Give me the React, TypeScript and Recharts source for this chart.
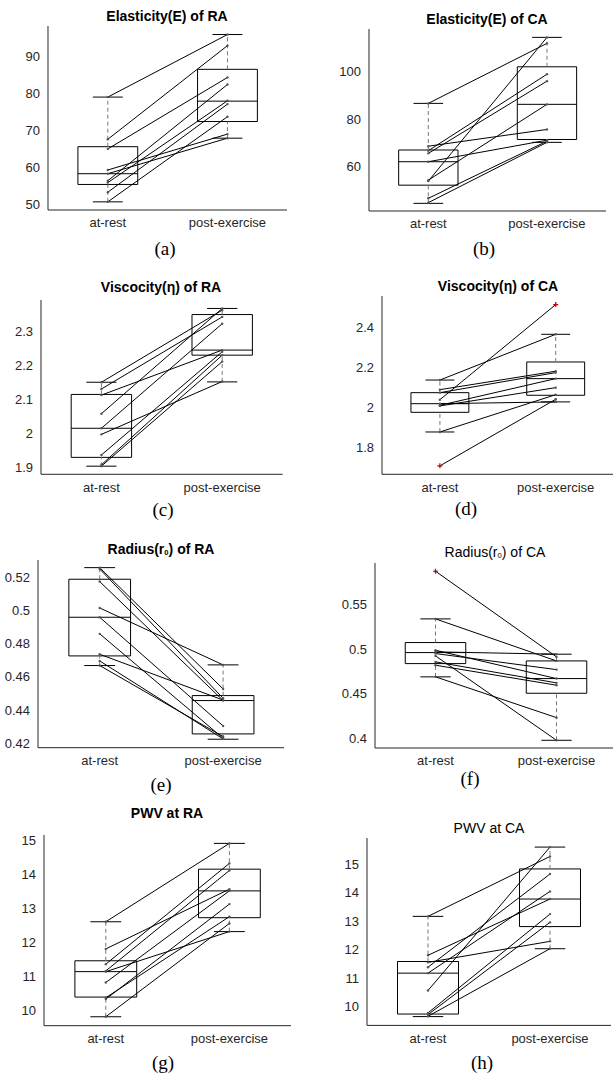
import React from 'react';
import {
  ComposedChart,
  XAxis,
  YAxis,
  Scatter,
  ReferenceArea,
  ReferenceLine,
} from 'recharts';

const groups = ['at-rest', 'post-exercise'];

// box stats are [lower whisker, q1, median, q3, upper whisker]

// (a) Elasticity(E) of RA
const eRaRest = [78.9, 67.5, 64.9, 59.2, 58.2, 56.3, 55.8, 53.2, 50.6];
const eRaPost = [95.8, 92.8, 84.2, 68.9, 67.8, 82.3, 77.9, 77.0, 73.6];
const eRaBoxRest = [50.6, 55.3, 58.2, 65.5, 78.9];
const eRaBoxPost = [67.8, 72.3, 77.8, 86.4, 95.8];

// (b) Elasticity(E) of CA
const eCaRest = [86.5, 54.0, 66.7, 65.6, 68.6, 62.1, 54.4, 46.8, 45.0];
const eCaPost = [111.6, 114.1, 98.7, 95.8, 75.6, 71.1, 86.1, 70.7, 70.2];
const eCaBoxRest = [44.7, 52.3, 62.1, 67.0, 86.5];
const eCaBoxPost = [70.2, 71.4, 86.1, 101.8, 114.1];

// (c) Viscocity of RA
const vRaRest = [2.151, 2.131, 2.113, 2.058, 2.015, 1.997, 1.936, 1.907, 1.903];
const vRaPost = [2.364, 2.344, 2.246, 2.369, 2.324, 2.153, 2.241, 2.231, 2.212];
const vRaBoxRest = [1.903, 1.929, 2.015, 2.115, 2.151];
const vRaBoxPost = [2.152, 2.231, 2.246, 2.351, 2.369];

// (d) Viscocity of CA
const vCaRest = [2.137, 2.039, 2.089, 2.074, 2.011, 2.008, 2.019, 1.878, 1.709];
const vCaPost = [2.365, 2.513, 2.181, 2.174, 2.144, 2.099, 2.028, 2.064, 2.041];
const vCaBoxRest = [1.878, 1.976, 2.019, 2.074, 2.137];
const vCaBoxPost = [2.028, 2.061, 2.144, 2.227, 2.365];
const vCaOutRest = [1.709];
const vCaOutPost = [2.513];

// (e) Radius of RA
const rRaRest = [0.5258, 0.525, 0.5174, 0.5015, 0.4959, 0.4859, 0.4736, 0.4696, 0.4668];
const rRaPost = [0.4527, 0.4471, 0.4457, 0.4672, 0.4304, 0.423, 0.446, 0.4226, 0.424];
const rRaBoxRest = [0.4668, 0.4726, 0.4959, 0.5188, 0.5258];
const rRaBoxPost = [0.4224, 0.4256, 0.4457, 0.4487, 0.4672];

// (f) Radius of CA
const rCaRest = [0.5868, 0.5336, 0.4968, 0.4949, 0.4923, 0.4856, 0.4819, 0.4689, 0.4986];
const rCaPost = [0.4912, 0.4867, 0.4942, 0.477, 0.3981, 0.4622, 0.4596, 0.4234, 0.467];
const rCaBoxRest = [0.4689, 0.4837, 0.496, 0.5072, 0.5336];
const rCaBoxPost = [0.3981, 0.4506, 0.467, 0.4867, 0.4942];
const rCaOutRest = [0.5868];

// (g) PWV at RA
const pRaRest = [12.6, 11.8, 11.35, 11.15, 11.13, 10.81, 10.36, 10.32, 9.8];
const pRaPost = [14.91, 13.56, 14.32, 14.11, 12.31, 13.51, 12.75, 13.12, 12.55];
const pRaBoxRest = [9.8, 10.38, 11.13, 11.45, 12.6];
const pRaBoxPost = [12.31, 12.72, 13.51, 14.15, 14.91];

// (h) PWV at CA
const pCaRest = [13.17, 10.56, 11.8, 11.55, 11.38, 11.17, 9.77, 9.71, 9.65];
const pCaPost = [15.28, 15.61, 13.78, 12.29, 14.66, 14.05, 13.25, 12.96, 12.03];
const pCaBoxRest = [9.64, 9.73, 11.17, 11.58, 13.17];
const pCaBoxPost = [12.03, 12.81, 13.78, 14.84, 15.61];

const axisColor = '#262626';
const sans = '"Liberation Sans", Arial, sans-serif';
const serif = '"Liberation Serif", "Times New Roman", serif';

const Dot = (p: any) => <circle cx={p.cx} cy={p.cy} r={1.2} fill="#555" />;
const Plus = (p: any) => (
  <path
    d={`M${p.cx - 2.5},${p.cy}h5M${p.cx},${p.cy - 2.5}v5`}
    stroke="#d40000"
    strokeWidth={1.2}
  />
);

type PanelProps = {
  rest: number[];
  post: number[];
  boxes: number[][];
  outliers?: { x: number; y: number }[];
  domain: [number, number];
  ticks: number[];
  plot: [number, number, number, number]; // left, top, right, bottom on the page
  title: React.ReactNode;
  bold: boolean;
  titlePos: [number, number];
  caption: string;
  capPos: [number, number];
};

const Panel = ({ rest, post, boxes, outliers = [], domain, ticks, plot, title, bold, titlePos, caption, capPos }: PanelProps) => {
  const [l, t, r, b] = plot;
  const yw = 40;
  const top = 5;
  const xh = 30;
  const w = r - l + yw;
  const h = b - t + top + xh;
  return (
    <>
      <div style={{ position: 'absolute', left: l - yw, top: t - top }}>
        <ComposedChart width={w} height={h} margin={{ top, right: 0, bottom: 0, left: 0 }}>
          <XAxis
            type="number"
            dataKey="x"
            domain={[0.5, 2.5]}
            ticks={[1, 2]}
            interval={0}
            height={xh}
            tickFormatter={(v: number) => groups[v - 1]}
            axisLine={{ stroke: axisColor }}
            tickLine={false}
            tick={{ fill: axisColor, fontSize: 13, fontFamily: sans }}
          />
          <YAxis
            type="number"
            dataKey="y"
            domain={domain}
            ticks={ticks}
            interval={0}
            width={yw}
            axisLine={{ stroke: axisColor }}
            tickLine={false}
            tick={{ fill: axisColor, fontSize: 13, fontFamily: sans }}
          />
          {boxes.map((s, i) => {
            const c = i + 1;
            return [
              <ReferenceLine key={`wl${i}`} segment={[{ x: c, y: s[0] }, { x: c, y: s[1] }]} stroke="#777" strokeDasharray="4 3" />,
              <ReferenceLine key={`wh${i}`} segment={[{ x: c, y: s[3] }, { x: c, y: s[4] }]} stroke="#777" strokeDasharray="4 3" />,
              <ReferenceLine key={`cl${i}`} segment={[{ x: c - 0.125, y: s[0] }, { x: c + 0.125, y: s[0] }]} stroke="#000" />,
              <ReferenceLine key={`ch${i}`} segment={[{ x: c - 0.125, y: s[4] }, { x: c + 0.125, y: s[4] }]} stroke="#000" />,
              <ReferenceArea key={`bx${i}`} x1={c - 0.25} x2={c + 0.25} y1={s[1]} y2={s[3]} stroke="#000" strokeOpacity={1} fill="none" fillOpacity={0} />,
              <ReferenceLine key={`md${i}`} segment={[{ x: c - 0.25, y: s[2] }, { x: c + 0.25, y: s[2] }]} stroke="#000" />,
            ];
          })}
          {rest.map((v, i) => (
            <Scatter
              key={`s${i}`}
              data={[{ x: 1, y: v }, { x: 2, y: post[i] }]}
              dataKey="y"
              fill="#555"
              line={{ stroke: '#000', strokeWidth: 1 }}
              shape={Dot}
              isAnimationActive={false}
            />
          ))}
          {outliers.length > 0 && (
            <Scatter data={outliers} dataKey="y" shape={Plus} isAnimationActive={false} />
          )}
        </ComposedChart>
      </div>
      <div
        style={{
          position: 'absolute',
          left: titlePos[0],
          top: titlePos[1],
          transform: 'translate(-50%, -50%)',
          whiteSpace: 'nowrap',
          fontFamily: sans,
          fontSize: 14,
          fontWeight: bold ? 'bold' : 'normal',
          color: '#000',
        }}
      >
        {title}
      </div>
      <div
        style={{
          position: 'absolute',
          left: capPos[0],
          top: capPos[1],
          transform: 'translate(-50%, -50%)',
          whiteSpace: 'nowrap',
          fontFamily: serif,
          fontSize: 19,
          color: '#000',
        }}
      >
        {caption}
      </div>
    </>
  );
};

const sub = (s: string) => <sub style={{ fontSize: '0.55em', verticalAlign: '-0.25em' }}>{s}</sub>;

export default function App() {
  return (
    <div style={{ position: 'absolute', left: 0, top: 0, width: 613, height: 1080, overflow: 'hidden', background: '#fff' }}>
      <Panel
        rest={eRaRest} post={eRaPost} boxes={[eRaBoxRest, eRaBoxPost]}
        domain={[48.4, 98.1]} ticks={[50, 60, 70, 80, 90]}
        plot={[47.7, 26, 287, 210]}
        title="Elasticity(E) of RA" bold titlePos={[167, 16]}
        caption="(a)" capPos={[165, 249]}
      />
      <Panel
        rest={eCaRest} post={eCaPost} boxes={[eCaBoxRest, eCaBoxPost]}
        domain={[41.5, 117.6]} ticks={[60, 80, 100]}
        plot={[368.7, 29, 606, 211]}
        title="Elasticity(E) of CA" bold titlePos={[487, 19]}
        caption="(b)" capPos={[484, 249]}
      />
      <Panel
        rest={vRaRest} post={vRaPost} boxes={[vRaBoxRest, vRaBoxPost]}
        domain={[1.879, 2.394]} ticks={[1.9, 2, 2.1, 2.2, 2.3]}
        plot={[41.2, 300, 282.8, 474.3]}
        title="Viscocity(η) of RA" bold titlePos={[161, 287]}
        caption="(c)" capPos={[163, 510]}
      />
      <Panel
        rest={vCaRest} post={vCaPost} boxes={[vCaBoxRest, vCaBoxPost]}
        outliers={[...vCaOutRest.map((y) => ({ x: 1, y })), ...vCaOutPost.map((y) => ({ x: 2, y }))]}
        domain={[1.667, 2.556]} ticks={[1.8, 2, 2.2, 2.4]}
        plot={[382.3, 295.7, 613.9, 474]}
        title="Viscocity(η) of CA" bold titlePos={[498, 286]}
        caption="(d)" capPos={[466, 509]}
      />
      <Panel
        rest={rRaRest} post={rRaPost} boxes={[rRaBoxRest, rRaBoxPost]}
        domain={[0.4173, 0.5304]} ticks={[0.42, 0.44, 0.46, 0.48, 0.5, 0.52]}
        plot={[37.6, 560, 284.4, 747.7]}
        title={<>Radius(r{sub('0')}) of RA</>} bold titlePos={[161, 549]}
        caption="(e)" capPos={[161, 785]}
      />
      <Panel
        rest={rCaRest} post={rCaPost} boxes={[rCaBoxRest, rCaBoxPost]}
        outliers={rCaOutRest.map((y) => ({ x: 1, y }))}
        domain={[0.3895, 0.596]} ticks={[0.4, 0.45, 0.5, 0.55]}
        plot={[374.5, 562.7, 616.5, 747.7]}
        title={<>Radius(r{sub('0')}) of CA</>} bold={false} titlePos={[495, 552]}
        caption="(f)" capPos={[470, 779]}
      />
      <Panel
        rest={pRaRest} post={pRaPost} boxes={[pRaBoxRest, pRaBoxPost]}
        domain={[9.537, 15.157]} ticks={[10, 11, 12, 13, 14, 15]}
        plot={[43.9, 835, 291.1, 1025.7]}
        title="PWV at RA" bold titlePos={[167, 813]}
        caption="(g)" capPos={[163, 1063]}
      />
      <Panel
        rest={pCaRest} post={pCaPost} boxes={[pCaBoxRest, pCaBoxPost]}
        domain={[9.33, 15.93]} ticks={[10, 11, 12, 13, 14, 15]}
        plot={[367.3, 838.3, 611.3, 1025.7]}
        title="PWV at CA" bold={false} titlePos={[489, 828]}
        caption="(h)" capPos={[482, 1063]}
      />
    </div>
  );
}
